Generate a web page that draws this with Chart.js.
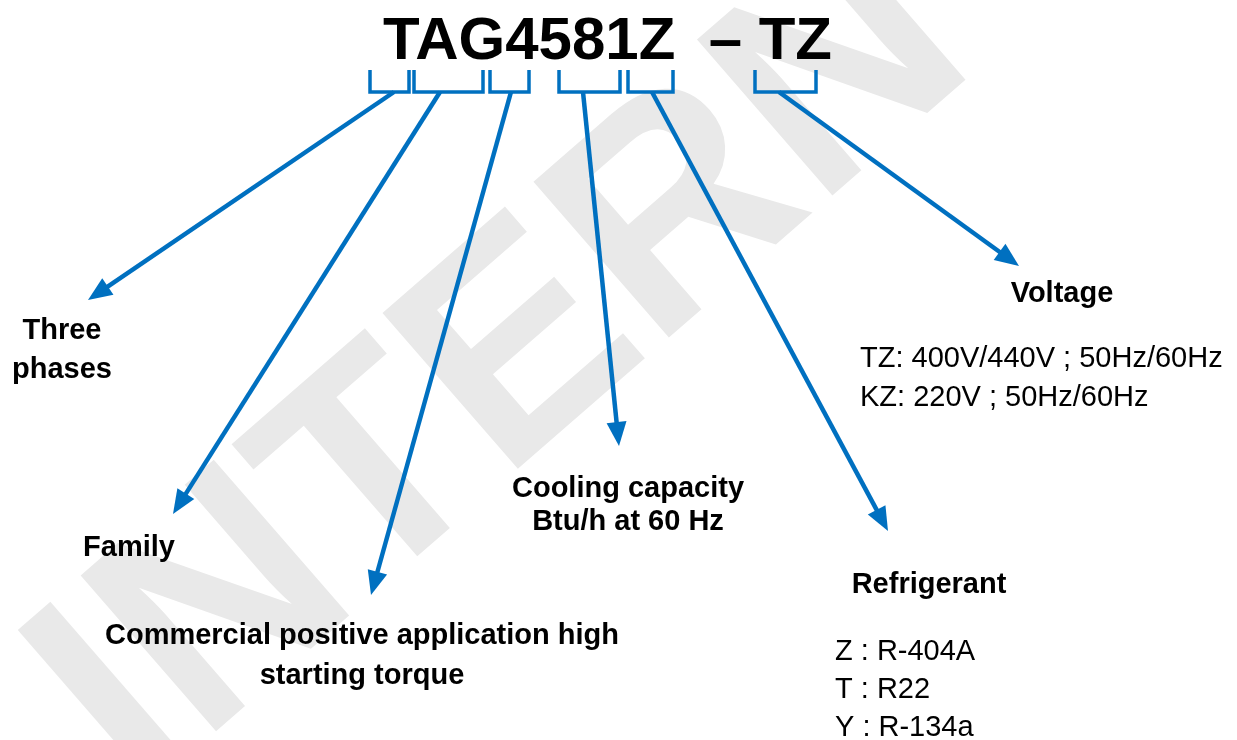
<!DOCTYPE html>
<html>
<head>
<meta charset="utf-8">
<script src="https://cdn.jsdelivr.net/npm/chart.js@4.4.1/dist/chart.umd.min.js"></script>
<style>
  html, body { margin: 0; padding: 0; background: #fff; }
  #wrap { width: 1237px; height: 740px; position: relative; }
</style>
</head>
<body>
<div id="wrap"><canvas id="diagram"></canvas></div>
<script>
// model code and the six bracket groups under it
let TITLE = "TAG4581Z  \u2013 TZ";
let bracketStart = [370, 414, 490, 559, 628, 755];
let bracketEnd   = [409, 483, 529, 620, 673, 816];

// arrows: from the bracket foot down to the label
let arrowFromX = [394, 440, 511, 583, 652, 779];
let arrowToX   = [88, 173, 371, 619, 888, 1019];
let arrowToY   = [300, 514, 595, 446, 531, 266];

// labels (bold) and their notes (regular)
let labelText = [["Three", "phases"], ["Family"], ["Commercial positive application high", "starting torque"],
                 ["Cooling capacity", "Btu/h at 60 Hz"], ["Refrigerant"], ["Voltage"]];
let labelX = [62, 129, 362, 628, 929, 1062];
let labelY = [331, 548, 636, 489, 585, 294];
let labelGap = [39, 0, 40, 33, 0, 0];

let noteText = [["TZ: 400V/440V ; 50Hz/60Hz", "KZ: 220V ; 50Hz/60Hz"], ["Z : R-404A", "T : R22", "Y : R-134a"]];
let noteX = [860, 835];
let noteY = [359, 652];
let noteGap = [39, 38];

let BLUE = "#0070C0";
let TOP = 70, FOOT = 92;

let datasets = [];
for (let i = 0; i < bracketStart.length; i++) {
	datasets.push({
		data: [{x: bracketStart[i], y: TOP}, {x: bracketStart[i], y: FOOT}, {x: bracketEnd[i], y: FOOT}, {x: bracketEnd[i], y: TOP}],
		borderColor: BLUE, borderWidth: 3.5, showLine: true, pointRadius: 0, fill: false
	});
}
for (let i = 0; i < arrowFromX.length; i++) {
	// stop the shaft a little short of the tip, the head covers the rest
	let dx = arrowToX[i] - arrowFromX[i], dy = arrowToY[i] - FOOT;
	let len = Math.sqrt(dx * dx + dy * dy);
	let k = (len - 14) / len;
	datasets.push({
		data: [{x: arrowFromX[i], y: FOOT}, {x: arrowFromX[i] + dx * k, y: FOOT + dy * k}],
		borderColor: BLUE, borderWidth: 4.5, showLine: true, pointRadius: 0, fill: false
	});
}

let watermark = {
	id: "watermark",
	beforeDatasetsDraw(chart) {
		let ctx = chart.ctx;
		ctx.save();
		ctx.translate(138, 799);
		ctx.rotate(-41 * Math.PI / 180);
		ctx.font = "bold 300px 'Liberation Sans', Arial, sans-serif";
		ctx.fillStyle = "#e9e9e9";
		ctx.fillText("INTERN", 0, 0);
		ctx.restore();
	}
};

let annotations = {
	id: "annotations",
	afterDatasetsDraw(chart) {
		let ctx = chart.ctx, xs = chart.scales.x, ys = chart.scales.y;
		ctx.save();
		// arrow heads
		ctx.fillStyle = BLUE;
		for (let i = 0; i < arrowFromX.length; i++) {
			let x0 = xs.getPixelForValue(arrowFromX[i]), y0 = ys.getPixelForValue(FOOT);
			let x1 = xs.getPixelForValue(arrowToX[i]), y1 = ys.getPixelForValue(arrowToY[i]);
			let a = Math.atan2(y1 - y0, x1 - x0);
			ctx.beginPath();
			ctx.moveTo(x1, y1);
			ctx.lineTo(x1 - 24 * Math.cos(a) + 10 * Math.sin(a), y1 - 24 * Math.sin(a) - 10 * Math.cos(a));
			ctx.lineTo(x1 - 24 * Math.cos(a) - 10 * Math.sin(a), y1 - 24 * Math.sin(a) + 10 * Math.cos(a));
			ctx.closePath();
			ctx.fill();
		}
		ctx.fillStyle = "#000";
		ctx.textBaseline = "middle";
		// title
		ctx.font = "bold 60px 'Liberation Sans', Arial, sans-serif";
		ctx.textAlign = "left";
		ctx.fillText(TITLE, xs.getPixelForValue(383), ys.getPixelForValue(42));
		// labels
		ctx.font = "bold 29px 'Liberation Sans', Arial, sans-serif";
		ctx.textAlign = "center";
		labelText.forEach(function(lines, i) {
			lines.forEach(function(t, j) {
				ctx.fillText(t, xs.getPixelForValue(labelX[i]), ys.getPixelForValue(labelY[i] + j * labelGap[i]));
			});
		});
		// notes
		ctx.font = "29px 'Liberation Sans', Arial, sans-serif";
		ctx.textAlign = "left";
		noteText.forEach(function(lines, i) {
			lines.forEach(function(t, j) {
				ctx.fillText(t, xs.getPixelForValue(noteX[i]), ys.getPixelForValue(noteY[i] + j * noteGap[i]));
			});
		});
		ctx.restore();
	}
};

new Chart(document.getElementById("diagram"), {
	type: "scatter",
	data: { datasets: datasets },
	options: {
		responsive: true,
		maintainAspectRatio: false,
		animation: false,
		layout: { padding: 0 },
		plugins: { legend: { display: false }, tooltip: { enabled: false } },
		scales: {
			x: { type: "linear", min: 0, max: 1237, display: false },
			y: { type: "linear", min: 0, max: 740, reverse: true, display: false }
		}
	},
	plugins: [watermark, annotations]
});
</script>
</body>
</html>
